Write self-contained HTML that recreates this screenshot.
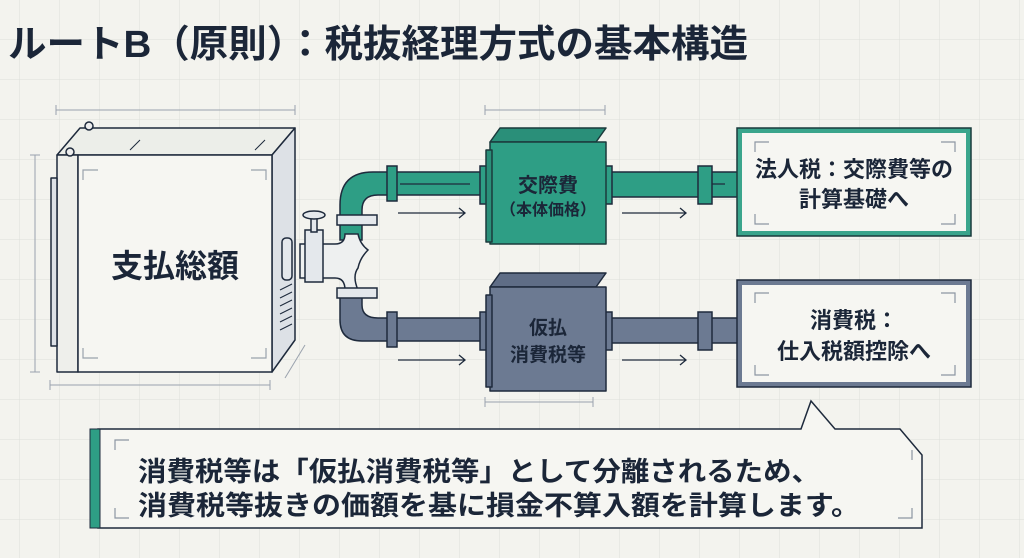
<!DOCTYPE html>
<html><head><meta charset="utf-8"><style>
html,body{margin:0;padding:0;width:1024px;height:558px;overflow:hidden;background:#f3f3ee}
svg{display:block}
text{font-family:"Liberation Sans","Noto Sans CJK JP",sans-serif;font-weight:bold;fill:#1b2638}
</style></head><body>
<svg width="1024" height="558" viewBox="0 0 1024 558" xmlns="http://www.w3.org/2000/svg">
<defs>
<pattern id="g" width="40" height="40" patternUnits="userSpaceOnUse" x="20" y="0">
<path d="M40 0V40M0 40H40" fill="none" stroke="#dcdfda" stroke-width="1"/>
</pattern>
</defs>
<rect width="1024" height="558" fill="#f3f3ee"/>
<rect width="1024" height="558" fill="url(#g)"/>
<text x="8" y="57" font-size="38" textLength="740" lengthAdjust="spacingAndGlyphs">ルートB（原則）：税抜経理方式の基本構造</text>

<g stroke="#9aa2ad" stroke-width="1" fill="none">
<path d="M56 110H295M56 105v10M295 105v10"/>
<path d="M35 155V372M30 155h10M30 372h10"/>
<path d="M50 385H270M50 380v10M270 380v10"/>
<path d="M285 378L305 345"/>
<path d="M485 110H605M485 105v10M605 105v10"/>
<path d="M485 402H593M485 397v10M593 397v10"/>
</g>

<g stroke="#1e2a3c" stroke-width="1.5" stroke-linejoin="round">
<polygon points="57,155 272,155 295,128 80,128" fill="#eceee9"/>
<polygon points="272,155 295,128 295,340 272,372" fill="#dde1e6"/>
<rect x="57" y="155" width="21" height="217" fill="#eeefeb"/>
<rect x="78" y="155" width="194" height="217" fill="#f6f6f2"/>
<rect x="51" y="178" width="6" height="168" fill="#dde1e6"/>
<circle cx="89" cy="126" r="4" fill="#eee"/>
<circle cx="70" cy="152" r="4" fill="#eee"/>
</g>
<g stroke="#1e2a3c" stroke-width="1" fill="none">
<path d="M280 290l12-6M280 298l12-6M280 306l12-6M280 314l12-6M280 322l12-6M280 330l12-6"/>
<path d="M130 150l10-10M255 150l10-10"/>
</g>
<g stroke="#9aa2ad" stroke-width="1.2" fill="none">
<path d="M83 180v-10h15M266 180v-10h-15M83 348v10h15M266 348v10h-15"/>
</g>
<text x="175" y="277" font-size="32" text-anchor="middle">支払総額</text>

<g stroke="#1e2a3c" stroke-width="1.5">
<path d="M340 240V205Q340 172 373 172H492V195H378Q362 195 362 210V240Z" fill="#2e9e85"/>
<path d="M340 295V320Q340 341 362 341H492V318H378Q362 318 362 305V295Z" fill="#6c7a92"/>
<path d="M300 244H335Q345 244 345 234H358Q360 244 368 250Q360 258 358 268Q352 276 358 290H345Q345 278 335 278H300Z" fill="#eef0f0"/>
<rect x="337" y="215" width="40" height="10" fill="#e4e8ec"/>
<rect x="337" y="288" width="40" height="10" fill="#e4e8ec"/>
<rect x="387" y="166" width="10" height="35" fill="#2e9e85"/>
<rect x="387" y="312" width="10" height="35" fill="#6c7a92"/>
<rect x="282" y="238" width="10" height="42" rx="4" fill="#e4e8ec"/>
<rect x="305" y="230" width="18" height="52" fill="#e4e8ec"/>
<rect x="311" y="218" width="6" height="14" fill="#e4e8ec"/>
<ellipse cx="314" cy="215" rx="11" ry="4" fill="#e4e8ec"/>
</g>
<g stroke="#1e2a3c" stroke-width="1.5">
<rect x="606" y="172" width="140" height="25" fill="#2e9e85"/>
<rect x="606" y="318" width="140" height="25" fill="#6c7a92"/>
<rect x="698" y="166" width="14" height="38" fill="#2e9e85"/>
<rect x="698" y="312" width="14" height="38" fill="#6c7a92"/>
<rect x="600" y="166" width="12" height="38" fill="#2e9e85"/>
<rect x="600" y="312" width="12" height="38" fill="#6c7a92"/>
<rect x="480" y="166" width="12" height="38" fill="#2e9e85"/>
<rect x="480" y="312" width="12" height="38" fill="#6c7a92"/>
</g>
<g stroke="#1e2a3c" stroke-width="1.3" fill="none">
<path d="M398 213H465M459 208l6 5-6 5"/>
<path d="M398 360H465M459 355l6 5-6 5"/>
<path d="M622 213H686M680 208l6 5-6 5"/>
<path d="M622 360H686M680 355l6 5-6 5"/>
<path d="M400 184H470M712 184H725"/>
</g>

<g stroke="#1b3a3c" stroke-width="1.5" stroke-linejoin="round">
<polygon points="490,142 596,142 606,128 500,128" fill="#2a8f79"/>
<rect x="490" y="142" width="116" height="102" fill="#2e9e85"/>
<rect x="486" y="150" width="6" height="92" fill="#2a8f79"/>
</g>
<text x="548" y="192" font-size="20" text-anchor="middle">交際費</text>
<text x="548" y="215" font-size="16" text-anchor="middle">（本体価格）</text>
<g stroke="#1e2a3c" stroke-width="1.5" stroke-linejoin="round">
<polygon points="490,287 596,287 606,273 500,273" fill="#5f6d86"/>
<rect x="490" y="287" width="116" height="104" fill="#6c7a92"/>
<rect x="486" y="295" width="6" height="92" fill="#5f6d86"/>
</g>
<text x="548" y="334" font-size="19" text-anchor="middle">仮払</text>
<text x="548" y="361" font-size="19" text-anchor="middle">消費税等</text>

<rect x="737" y="128" width="234" height="108" fill="#3aa58c" stroke="#1b3a3c" stroke-width="1.5"/>
<rect x="742" y="133" width="224" height="98" fill="#f6f6f2"/>
<rect x="737" y="280" width="234" height="107" fill="#6c7a92" stroke="#1e2a3c" stroke-width="1.5"/>
<rect x="742" y="285" width="224" height="97" fill="#f6f6f2"/>
<g stroke="#8c96a3" stroke-width="1.2" fill="none">
<path d="M755 152v-10h14M955 152v-10h-14M755 214v10h14M955 214v10h-14"/>
<path d="M755 303v-10h14M955 303v-10h-14M755 365v10h14M955 365v10h-14"/>
</g>
<text x="854" y="177" font-size="22" text-anchor="middle">法人税：交際費等の</text>
<text x="854" y="207" font-size="22" text-anchor="middle">計算基礎へ</text>
<text x="854" y="328" font-size="22" text-anchor="middle">消費税：</text>
<text x="854" y="359" font-size="22" text-anchor="middle">仕入税額控除へ</text>

<path d="M98 429H801L811 401L835 429H900L922 455V528H98Z" fill="#f6f6f2" stroke="#1e2a3c" stroke-width="1.5"/>
<rect x="90" y="429" width="10" height="99" fill="#2e9e85" stroke="#1e2a3c" stroke-width="1"/>
<g stroke="#8c96a3" stroke-width="1.2" fill="none">
<path d="M115 450v-10h14M115 508v10h14M912 508v10h-14M912 450v10"/>
</g>
<text x="138" y="481" font-size="27" textLength="682" lengthAdjust="spacingAndGlyphs">消費税等は「仮払消費税等」として分離されるため、</text>
<text x="138" y="515" font-size="27" textLength="722" lengthAdjust="spacingAndGlyphs">消費税等抜きの価額を基に損金不算入額を計算します。</text>
</svg>
</body></html>
